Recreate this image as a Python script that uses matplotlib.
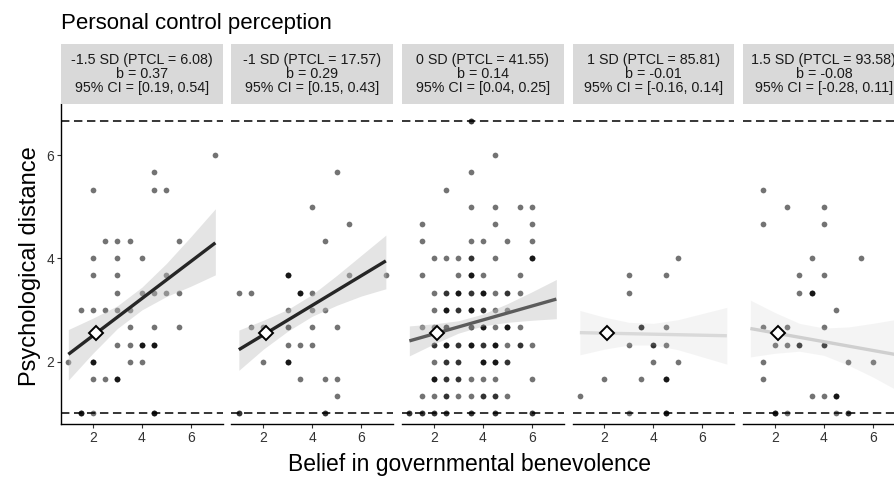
import matplotlib
matplotlib.use('Agg')
import matplotlib.pyplot as plt
import numpy as np

plt.rcParams['font.family'] = ['Liberation Sans', 'DejaVu Sans']

# strip labels (one per moderator level)
strip_labels = [
    "-1.5 SD (PTCL = 6.08)\nb = 0.37\n95% CI = [0.19, 0.54]",
    "-1 SD (PTCL = 17.57)\nb = 0.29\n95% CI = [0.15, 0.43]",
    "0 SD (PTCL = 41.55)\nb = 0.14\n95% CI = [0.04, 0.25]",
    "1 SD (PTCL = 85.81)\nb = -0.01\n95% CI = [-0.16, 0.14]",
    "1.5 SD (PTCL = 93.58)\nb = -0.08\n95% CI = [-0.28, 0.11]",
]

# raw responses per panel: (benevolence, distance, number of overlapping cases)
pts_m15 = [(7, 6, 1), (4.5, 5.67, 1), (2, 5.33, 1), (4.5, 5.33, 1), (5, 5.33, 1),
           (2.5, 4.33, 1), (3, 4.33, 1), (3.5, 4.33, 1), (5.5, 4.33, 1),
           (2, 4, 1), (3, 4, 1), (4, 4, 1),
           (2, 3.67, 1), (3, 3.67, 1), (5, 3.67, 1),
           (3, 3.33, 1), (4, 3.33, 1), (4.5, 3.33, 1), (5, 3.33, 1), (5.5, 3.33, 1),
           (1.5, 3, 1), (2, 3, 1), (2.5, 3, 1), (3, 3, 1), (3.5, 3, 1),
           (3.5, 2.67, 1), (4.5, 2.67, 1), (5.5, 2.67, 1),
           (3, 2.33, 1), (3.5, 2.33, 1), (4, 2.33, 3), (4.5, 2.33, 3),
           (1, 2, 1), (2, 2, 3), (3.5, 2, 1), (4, 2, 1),
           (2, 1.67, 1), (2.5, 1.67, 1), (3, 1.67, 3),
           (1.5, 1, 3), (2, 1, 1), (4.5, 1, 3)]

pts_m1 = [(5, 5.67, 1), (4, 5, 1), (5.5, 4.67, 1), (4.5, 4.33, 1),
          (3, 3.67, 3), (5.5, 3.67, 1), (7, 3.67, 1),
          (1, 3.33, 1), (1.5, 3.33, 1), (3.5, 3.33, 3), (4, 3.33, 1),
          (3, 3, 1), (4, 3, 1), (4.5, 3, 1),
          (1.5, 2.67, 1), (2, 2.67, 1), (3, 2.67, 2), (4, 2.67, 1), (5, 2.67, 1),
          (3, 2.33, 1), (3.5, 2.33, 1), (4, 2.33, 1),
          (2, 2, 1), (3, 2, 3),
          (3.5, 1.67, 1), (4.5, 1.67, 1), (5, 1.67, 1),
          (5, 1.33, 1),
          (1, 1, 2), (4.5, 1, 2)]

pts_0 = [(3.5, 6.67, 2),
         (4.5, 6, 1), (3.5, 5.67, 1), (2.5, 5.33, 1),
         (3.5, 5, 1), (4.5, 5, 1), (5.5, 5, 1), (6, 5, 1),
         (1.5, 4.67, 1), (4.5, 4.67, 1), (6, 4.67, 1),
         (1.5, 4.33, 1), (3.5, 4.33, 1), (4, 4.33, 1), (5, 4.33, 1), (6, 4.33, 1),
         (2, 4, 1), (2.5, 4, 1), (3, 4, 1), (3.5, 4, 2), (4.5, 4, 1), (6, 4, 3),
         (1.5, 3.67, 1), (3, 3.67, 1), (3.5, 3.67, 3), (4, 3.67, 1), (5.5, 3.67, 1),
         (2, 3.33, 1), (2.5, 3.33, 2), (3, 3.33, 3), (3.5, 3.33, 2), (4, 3.33, 3),
         (4.5, 3.33, 1), (5, 3.33, 2), (5.5, 3.33, 1),
         (2, 3, 1), (2.5, 3, 3), (3, 3, 2), (3.5, 3, 3), (4, 3, 2), (4.5, 3, 1), (5, 3, 1),
         (1.5, 2.67, 1), (2, 2.67, 1), (2.5, 2.67, 2), (3.5, 2.67, 2), (4, 2.67, 3),
         (4.5, 2.67, 1), (5, 2.67, 3), (5.5, 2.67, 1),
         (2, 2.33, 2), (2.5, 2.33, 3), (3, 2.33, 2), (3.5, 2.33, 3), (4, 2.33, 2),
         (4.5, 2.33, 3), (5, 2.33, 1), (5.5, 2.33, 2), (6, 2.33, 1),
         (2, 2, 1), (2.5, 2, 2), (3, 2, 2), (4, 2, 3), (4.5, 2, 3), (5, 2, 2),
         (2, 1.67, 3), (2.5, 1.67, 2), (3, 1.67, 2), (3.5, 1.67, 1), (4, 1.67, 1),
         (4.5, 1.67, 1), (6, 1.67, 1),
         (1.5, 1.33, 1), (2, 1.33, 1), (2.5, 1.33, 2), (3, 1.33, 1), (3.5, 1.33, 1),
         (4, 1.33, 2), (4.5, 1.33, 2), (5, 1.33, 1),
         (1, 1, 2), (1.5, 1, 2), (2, 1, 2), (2.5, 1, 2), (3.5, 1, 2), (4.5, 1, 2), (6, 1, 2)]

pts_p1 = [(5, 4, 1), (3, 3.67, 1), (4.5, 3.67, 1), (3, 3.33, 1),
          (3.5, 2.67, 2), (4.5, 2.67, 1),
          (3, 2.33, 1), (4, 2.33, 2), (4.5, 2.33, 1),
          (4, 2, 1), (5, 2, 1),
          (2, 1.67, 1), (3.5, 1.67, 1), (4.5, 1.67, 3),
          (1, 1.33, 1),
          (3, 1, 1), (4.5, 1, 3)]

pts_p15 = [(1.5, 5.33, 1), (2.5, 5, 1), (4, 5, 1), (1.5, 4.67, 1), (4, 4.67, 1),
           (3.5, 4, 1), (5.5, 4, 1), (3, 3.67, 1), (4, 3.67, 1), (3, 3.33, 1), (3.5, 3.33, 3),
           (4.5, 3, 1),
           (1.5, 2.67, 1), (2.5, 2.67, 1), (4, 2.67, 1),
           (2, 2.33, 1), (2.5, 2.33, 1), (3, 2.33, 2), (4, 2.33, 2),
           (1.5, 2, 1), (5, 2, 1), (6, 2, 1),
           (1.5, 1.67, 1),
           (3.5, 1.33, 1), (4, 1.33, 1), (4.5, 1.33, 3),
           (2, 1, 3), (2.5, 1, 1), (4.5, 1, 1), (5, 1, 2)]

panel_points = [pts_m15, pts_m1, pts_0, pts_p1, pts_p15]

# simple slopes: fitted value at x = 1 and x = 7
fit_x = [1, 7]
fit_y = [[2.14, 4.30], [2.23, 3.95], [2.40, 3.21], [2.56, 2.50], [2.64, 2.13]]

# confidence band read at x = 1..7
band_x = [1, 2, 3, 4, 5, 6, 7]
band_lo = [[1.64, 2.16, 2.64, 3.00, 3.26, 3.46, 3.68],
           [1.83, 2.24, 2.59, 2.88, 3.09, 3.27, 3.41],
           [2.11, 2.34, 2.55, 2.69, 2.76, 2.80, 2.83],
           [2.13, 2.24, 2.32, 2.32, 2.23, 2.09, 1.95],
           [2.09, 2.16, 2.20, 2.12, 1.93, 1.70, 1.44]]
band_hi = [[2.62, 2.84, 3.08, 3.44, 3.90, 4.42, 4.96],
           [2.61, 2.80, 3.01, 3.30, 3.67, 4.06, 4.45],
           [2.69, 2.73, 2.79, 2.92, 3.12, 3.35, 3.59],
           [2.99, 2.86, 2.76, 2.74, 2.81, 2.93, 3.05],
           [3.19, 2.95, 2.74, 2.65, 2.67, 2.74, 2.82]]

cross_pt = (2.12, 2.55)
y_bounds = [1, 6.67]

line_colors = ['#262626', '#262626', '#5c5c5c', '#d9d9d9', '#cfcfcf']
band_alpha = [0.42, 0.42, 0.42, 0.16, 0.16]

W, H = 895, 478
fig = plt.figure(figsize=(W / 100, H / 100), dpi=100)

left0, step, pw = 61, 170.5, 161.7
top_px, bot_px = 104, 424
strip_top = 44

for i in range(5):
    lx = left0 + step * i
    ax = fig.add_axes([lx / W, (H - bot_px) / H, pw / W, (bot_px - top_px) / H])
    pts = panel_points[i]
    xs = np.repeat([p[0] for p in pts], [p[2] for p in pts])
    ys = np.repeat([p[1] for p in pts], [p[2] for p in pts])
    ax.scatter(xs, ys, s=17, color='black', alpha=0.55, linewidths=0, zorder=2)
    ax.fill_between(band_x, band_lo[i], band_hi[i], color='#bfbfbf',
                    alpha=band_alpha[i], linewidth=0, zorder=3)
    ax.plot(fit_x, fit_y[i], color=line_colors[i], lw=2.4, solid_capstyle='butt', zorder=4)
    for yb in y_bounds:
        ax.axhline(yb, color='black', lw=1.1, dashes=(5.5, 3), zorder=5)
    ax.plot(*cross_pt, marker='D', ms=7, mfc='white', mec='black', mew=1.4, zorder=6)

    ax.set_xlim(0.7, 7.3)
    ax.set_ylim(0.79, 6.99)
    ax.set_xticks([2, 4, 6])
    ax.set_yticks([2, 4, 6])
    for s in ['top', 'right']:
        ax.spines[s].set_visible(False)
    ax.spines['bottom'].set_linewidth(1.0)
    ax.tick_params(axis='both', length=3, width=0.8, color='#333333',
                   labelsize=10, labelcolor='#333333', pad=2)
    if i > 0:
        ax.spines['left'].set_visible(False)
        ax.tick_params(axis='y', left=False, labelleft=False)
    else:
        ax.spines['left'].set_linewidth(1.0)

    # facet strip
    sax = fig.add_axes([lx / W, (H - top_px) / H, pw / W, (top_px - strip_top) / H])
    sax.set_facecolor('#d9d9d9')
    sax.set_xticks([])
    sax.set_yticks([])
    for s in sax.spines.values():
        s.set_visible(False)
    sax.text(0.5, 0.5, strip_labels[i], ha='center', va='center', fontsize=10.3,
             color='#1a1a1a', linespacing=1.0, transform=sax.transAxes)

fig.text(61 / W, 1 - 29 / H, 'Personal control perception', fontsize=16,
         ha='left', va='baseline', color='black')
fig.text(470 / W, 1 - 465 / H, 'Belief in governmental benevolence', fontsize=16.5,
         ha='center', va='center')
fig.text(30 / W, 1 - 266 / H, 'Psychological distance', fontsize=17,
         ha='center', va='center', rotation=90)

fig.savefig('out.png', dpi=100)
